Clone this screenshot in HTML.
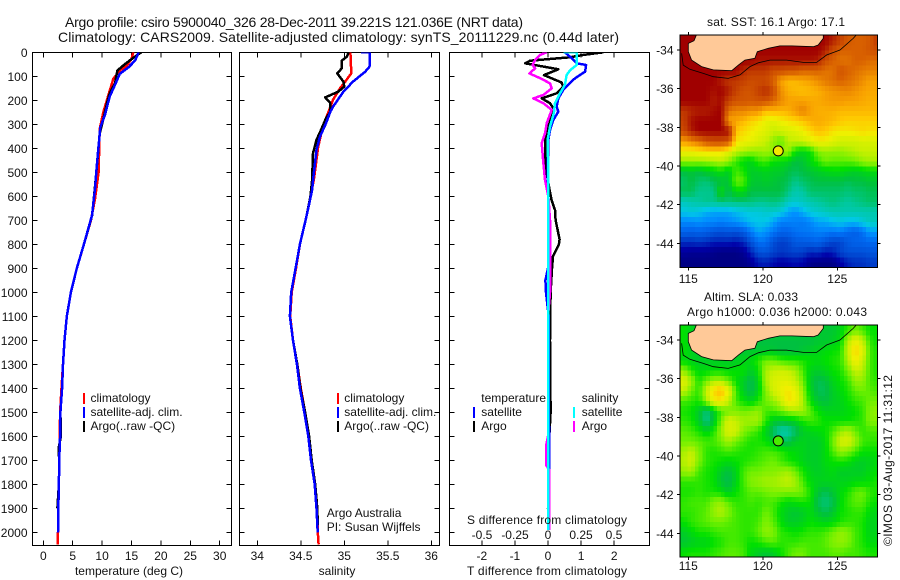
<!DOCTYPE html>
<html lang="en">
<head>
<meta charset="utf-8">
<title>Argo profile chart</title>
<style>
html,body{margin:0;padding:0;background:#fff;}
svg{display:block;}
text{font-family:"Liberation Sans",sans-serif;font-size:12px;fill:#111;}
.t{font-size:14px;}
</style>
</head>
<body>
<svg id="fig" xmlns="http://www.w3.org/2000/svg" width="900" height="580" viewBox="0 0 900 580">
<defs>
<clipPath id="c1"><rect x="32.5" y="52.5" width="199" height="493"/></clipPath>
<clipPath id="c2"><rect x="239.5" y="52.5" width="200" height="493"/></clipPath>
<clipPath id="c3"><rect x="449.5" y="52.5" width="200" height="493"/></clipPath>
<clipPath id="m1"><rect x="680" y="35" width="197.5" height="232.5"/></clipPath>
<clipPath id="m2"><rect x="680" y="325" width="197.5" height="232"/></clipPath>
</defs>
<text class="t" x="65" y="27" textLength="458" lengthAdjust="spacing">Argo profile: csiro 5900040_326 28-Dec-2011 39.221S 121.036E (NRT data)</text>
<text class="t" x="58" y="42" textLength="561" lengthAdjust="spacing">Climatology: CARS2009. Satellite-adjusted climatology: synTS_20111229.nc (0.44d later)</text>

<g id="p1"></g>
<g id="p2"></g>
<g id="p3"></g>
<g id="map1"></g>
<g id="map2"></g>

<text x="129" y="575" text-anchor="middle">temperature (deg C)</text>
<text x="337" y="575" text-anchor="middle">salinity</text>
<text x="547" y="575" text-anchor="middle" textLength="160">T difference from climatology</text>
<text x="547" y="524" text-anchor="middle" textLength="160">S difference from climatology</text>

<g>
<rect x="83" y="393" width="2" height="11" fill="#f00"/>
<text x="90.5" y="402">climatology</text>
<rect x="83" y="407" width="2" height="11" fill="#00f"/>
<text x="90.5" y="416">satellite-adj. clim.</text>
<rect x="83" y="421" width="2" height="11" fill="#000"/>
<text x="90.5" y="430">Argo(..raw -QC)</text>
</g>
<g>
<rect x="337" y="393" width="2" height="11" fill="#f00"/>
<text x="344.3" y="402">climatology</text>
<rect x="337" y="407" width="2" height="11" fill="#00f"/>
<text x="344.3" y="416">satellite-adj. clim.</text>
<rect x="337" y="421" width="2" height="11" fill="#000"/>
<text x="344.3" y="430">Argo(..raw -QC)</text>
</g>
<text x="326.7" y="517">Argo Australia</text>
<text x="326.7" y="531">PI: Susan Wijffels</text>
<g>
<text x="481.3" y="402">temperature</text>
<rect x="473" y="407" width="2" height="11" fill="#00f"/>
<text x="481.3" y="416">satellite</text>
<rect x="473" y="421" width="2" height="11" fill="#000"/>
<text x="481.3" y="430">Argo</text>
<text x="581.7" y="402">salinity</text>
<rect x="573" y="407" width="2" height="11" fill="#0ff"/>
<text x="581.7" y="416">satellite</text>
<rect x="573" y="421" width="2" height="11" fill="#f0f"/>
<text x="581.7" y="430">Argo</text>
</g>
<text x="707" y="26" textLength="138">sat. SST: 16.1  Argo: 17.1</text>
<text x="704" y="301" textLength="94">Altim. SLA: 0.033</text>
<text x="687" y="316" textLength="180">Argo h1000: 0.036  h2000: 0.043</text>
<text transform="translate(892,546) rotate(-90)" textLength="171">©IMOS 03-Aug-2017 11:31:12</text>
</svg>

<script>
// ---- axis ticks ----
const depthTicks = [0,100,200,300,400,500,600,700,800,900,1000,1100,1200,1300,1400,1500,1600,1700,1800,1900,2000];
const tempTicks = [0,5,10,15,20,25,30];
const salTicks = [34,34.5,35,35.5,36];
const tDiffTicks = [-2,-1,0,1,2];
const sDiffTicks = [-0.5,-0.25,0,0.25,0.5];
const lonTicks = [115,120,125];
const latTicks = [-34,-36,-38,-40,-42,-44];

// ---- temperature profiles ----
const tempClimDepth = [0,28,56,76,111,167,250,320,500,611,700,800,900,1000,1100,1200,1300,1400,1500,1600,1700,1800,1900,2000,2050];
const tempClimValue = [15.3,15,14.2,13,11.9,11.2,10.2,9.6,9.4,8.8,8.1,6.9,5.7,4.7,4.0,3.6,3.35,3.1,2.85,2.8,2.7,2.65,2.5,2.5,2.45];
const tempArgoDepth = [0,4,32,53,76,101,129,171,206,268,338,450,560,680,800,900,1000,1100,1200,1300,1400,1500,1600,1650,1700,1800,1900];
const tempArgoValue = [16.7,16.4,14.8,13.7,12.6,12.4,12.2,11.3,10.9,10.3,9.6,9.2,8.8,8.3,6.9,5.7,4.7,4.0,3.6,3.35,3.2,2.9,3.0,2.6,2.7,2.65,2.4];
const tempSatDepth = [0,35,62,90,136,184,260,313,389,472,567,678,800,900,1000,1100,1200,1300,1400,1500,1600,1700,1800,1900,2000];
const tempSatValue = [16.2,15.6,14.5,13,12.2,11.3,10.5,9.7,9.4,9.1,8.8,8.3,6.9,5.7,4.7,4.0,3.6,3.35,3.2,2.9,2.85,2.7,2.65,2.55,2.5];

// ---- salinity profiles ----
const salClimDepth = [0,88,122,150,198,247,282,330,393,476,532,602,692,800,900,1000,1100,1200,1300,1400,1500,1600,1700,1800,1900,2000,2050];
const salClimValue = [35.07,35.08,35.01,34.95,34.87,34.82,34.78,34.74,34.7,34.67,34.65,34.61,34.56,34.49,34.445,34.395,34.378,34.41,34.46,34.5,34.55,34.595,34.625,34.665,34.69,34.695,34.705];
const salArgoDepth = [0,18,35,67,88,122,143,164,188,212,247,275,317,365,421,532,602,692,800,900,1000,1100,1200,1300,1400,1500,1600,1700,1800,1900,1970];
const salArgoValue = [35.05,35.03,34.97,34.97,34.92,34.99,35,34.93,34.78,34.84,34.84,34.79,34.74,34.68,34.64,34.63,34.61,34.56,34.49,34.44,34.39,34.375,34.41,34.46,34.495,34.55,34.595,34.625,34.665,34.69,34.695];
const salSatDepth = [0,0,60,81,122,164,227,247,296,352,407,504,574,643,692,800,900,1000,1100,1200,1300,1400,1500,1600,1700,1800,1900,2000];
const salSatValue = [35.19,35.29,35.29,35.24,35.1,34.99,34.87,34.84,34.79,34.72,34.68,34.65,34.63,34.59,34.56,34.49,34.44,34.39,34.375,34.41,34.455,34.49,34.54,34.586,34.617,34.66,34.68,34.694];

// ---- difference profiles ----
const dtArgoDepth = [0,11,21,35,46,71,95,126,143,171,192,212,233,268,310,365,435,504,567,616,657,699,780,800,850,900,950,1000,1200,1500,1600,1900];
const dtArgoValue = [1.67,1.07,0.66,-0.54,-0.69,0.31,-0.12,0.41,0.46,0.26,-0.19,0.06,0.16,0.11,0.01,-0.09,-0.09,-0.04,0.04,0.11,0.21,0.23,0.35,0.33,0.15,0.12,0.1,0.08,0.06,0.08,0.04,0];
const dtSatDepth = [0,25,46,53,81,108,135,157,192,227,247,282,324,365,504,699,800,900,950,1000,1100,1990];
const dtSatValue = [0.51,0.72,0.87,1.15,1.12,0.82,0.61,0.46,0.31,0.26,0.31,0.16,0.06,0.01,-0.01,0.03,0.03,0,-0.08,-0.06,0.02,0.04];
const dsArgoDepth = [0,11,32,53,67,88,108,129,150,178,192,212,240,296,338,379,463,532,602,699,1000,1100,1600,1640,1720,1740,1990];
const dsArgoValue = [-0.01,-0.06,-0.098,-0.116,-0.098,-0.141,-0.06,0.015,0.028,-0.035,-0.111,-0.035,0.028,-0.01,-0.023,-0.048,-0.035,-0.023,0.003,0.015,0.015,0,0,-0.015,-0.015,0.01,0.01];
const dsSatDepth = [0,0,53,75,95,135,171,212,253,310,365,504,699,1990];
const dsSatValue = [0.116,0.217,0.217,0.167,0.141,0.129,0.091,0.053,0.045,0.015,-0.003,0.003,0.003,0.003];

// ---- map fields ----
const sstField = [
[21,21,21,21,21,21,21,21,21,21,21,21,21,21,21,21,21,21,21,21,20.5,19.8,19.2,19,19,19.2,20],
[21,21,21,21,21,21,21,21,21,21,21,21,21,21,21,21,21,21,21,20.5,19.5,19,19,19,19,19.3,19.5],
[21,21,21,21,21,21,21,21,21,21,20.7,20.7,20.7,20.7,20.7,20.7,20.7,20.7,20.5,19.5,19,18.7,18.7,19,19,18.8,18.8],
[21,21,21,21,21,21,21,21,20.3,20,20,20,19.5,19.5,19.3,19.3,19,19,19,18.7,18.7,19.3,19,18.8,18.6,18.5,18.5],
[21,21,21,21,21,20.5,20,20,19.8,19.5,19.5,19.5,19,18,17.7,17.7,17.9,18,18.3,18.6,18.8,19,18.8,18.6,18.3,18,18],
[21,21,21,21,20.7,21,20.5,19.8,19.3,19.3,19.8,20.3,19.5,18.3,17.8,17.7,17.6,17.7,17.8,18,18.2,18.3,18.4,18.2,18,17.9,17.9],
[21,21,21,21,20.5,20.8,19.8,19.3,19.3,19.2,19.3,19.3,18.9,18.4,18,18,18,17.9,17.9,18,18.1,18.1,18,18,17.9,17.8,17.8],
[20,20.3,20.5,20.5,20.8,21,18.7,18.4,18.4,18.2,18.2,17.6,17.7,17.7,17.8,18.1,18.5,18,17.8,17.8,17.8,17.7,17.7,17.7,17.7,17.7,17.7],
[19.8,20.7,21,21,21,21,18,17.9,17.7,17.4,17.2,16.9,16.8,17,17.2,17.3,17.5,17.8,17.9,17.8,17.7,17.5,17.4,17.4,17.4,17.4,17.4],
[19.5,20.5,21,21,21,21,20.8,17.6,17.3,17.1,16.9,16.8,16.5,16.6,16.7,16.8,17,17.3,17.6,17.5,17.2,17.1,17.1,17.2,17.3,17.2,17.2],
[18,18.3,18.7,19.3,19.5,19.5,19.3,17.2,17,16.9,16.7,16.5,16.2,15.9,16.4,16.5,16.6,16.8,17,17,16.8,16.6,16.6,16.6,16.7,16.7,16.7],
[17,17,17.1,17.2,17.2,17.2,16.8,16.5,16.3,16.2,16.2,16.3,16.2,16.2,16.3,15.5,15.3,15.5,16.1,16.2,16.2,16.2,16.3,16.4,16.5,16.5,16.5],
[16.2,16.2,16.2,16.2,16.3,16.4,16.2,15.7,15.4,15.3,15.7,15.8,15.5,15.4,15.3,15,15.1,15.4,15.7,16,15.9,15.9,15.9,16,16.2,16.3,16.3],
[15,15.1,15,15.2,15.3,15.5,15.2,15.8,15.6,15.2,15.2,15.3,15.2,15.2,15,14.9,15,15.1,15.2,15.3,15.4,15.4,15.3,15.2,15.3,15.4,15.4],
[14.8,15,14.8,14.7,14.9,15,15.1,16,15.9,15.2,15.1,15.2,15.1,15,14.9,14.6,14.8,14.9,15,15,15,15,14.9,15,15,15.1,15.1],
[14.9,14.9,14.6,14.6,14.6,15.5,14.9,15.4,15.4,15,15,15,15,15,14.7,14.4,14.5,14.8,14.8,14.8,14.8,14.8,14.7,14.8,14.8,14.9,14.9],
[14.3,14.4,14.5,14.6,14.6,14.7,14.7,14.7,14.7,14.7,14.6,14.6,14.7,14.6,14.3,14.2,14.3,14.4,14.5,14.6,14.7,14.6,14.5,14.6,14.7,14.8,14.8],
[14,14.1,14,13.8,13.7,13.7,13.7,13.9,14,14.1,14.1,14.2,14.2,14.1,13.7,13.5,13.8,14.1,14.2,14.3,14.4,14.4,14.4,14.4,14.4,14.4,14.4],
[13.4,13.4,13.5,13.4,13.4,13.3,13.4,13.5,13.7,13.9,14,14,13.7,13.3,13.3,13.3,13.2,13.4,13.7,13.7,13.9,14,13.9,13.9,14.1,14.3,14.3],
[12.9,12.8,12.9,12.8,12.6,12.5,12.6,12.5,12.7,13.2,13.7,13.5,13.2,12.9,12.9,13.1,13.2,13.2,13.3,13.3,13.2,13.3,13,12.8,13.1,13.6,13.6],
[12,12,12.1,12,11.8,11.8,11.8,11.7,11.9,12.5,13.1,13.1,12.5,12.2,12.3,12.7,12.7,12.8,12.9,12.6,12.3,12.3,12.7,12.9,12.9,13,13],
[11.3,11.2,11.2,11.2,11.1,11,11,11,11.2,11.8,12.5,12.6,12.3,12.1,12.2,12.3,12.2,11.9,12,11.7,11.8,12.3,12.5,12.5,12.5,12.6,12.6],
[11,11,11,11,11,11,11,11,11,11.2,11.7,11.8,11.6,11.4,11.5,11.6,11.5,11.1,11,11,11,11.4,11.8,12,12,12.2,12.2]
];
const slaField = [
[0,-2,-3,-3,-3,-3,-3,-3,-3,-3,-3,-3,-3,-3,-3,-3,-3,-3,-3,-4,-4,-2,2,5,3,0,0],
[0,-2,-3,-3,-3,-3,-3,-3,-3,-3,-5,-5,-5,-5,-5,-5,-5,-5,-4,-4,-3,-1,8,14,10,2,0],
[0,-2,-3,-3,-3,-3,-3,-3,-4,-4,-4,-4,-4,-5,-5,-5,-4,-3,-2,-1,0,1,10,19,13,3,1],
[-1,-2,-3,-3,-3,-3,-3,-3,-2,-1,2,5,5,3,2,2,1,0,-1,0,1,2,8,16,11,3,1],
[7,2,-1,-1,0,0,-1,0,0,-3,0,8,10,11,10,8,3,-2,-3,-2,0,1,5,10,9,3,1],
[13,8,1,5,8,8,5,0,-3,-6,-2,8,12,13,13,10,5,-3,-6,-5,-2,0,2,7,7,3,2],
[10,5,2,10,18,22,14,3,-3,-6,-2,6,11,14,17,14,7,-2,-6,-6,-3,-1,1,4,5,4,3],
[3,2,1,7,15,16,10,3,0,-2,1,5,7,10,17,15,8,0,-4,-5,-3,-2,0,2,3,5,5],
[1,0,-3,-8,-3,3,5,6,5,6,7,3,3,5,7,8,8,4,0,-2,-2,-2,-1,0,2,6,7],
[2,1,-3,-9,-4,5,12,10,8,8,8,2,-3,-4,-3,-2,1,3,2,0,0,0,0,1,2,6,6],
[4,3,1,-2,1,7,12,11,6,4,2,-2,-7,-11,-11,-7,-3,-2,-1,0,3,7,9,5,2,3,3],
[5,5,4,3,3,5,8,5,3,1,1,0,-3,-6,-6,-3,-2,-3,-3,-1,5,11,12,8,3,2,2],
[8,10,6,2,1,2,3,2,1,1,2,3,3,2,0,-1,-2,-3,-3,-1,3,7,6,3,0,0,0],
[9,11,6,2,1,0,-1,0,1,2,3,4,5,3,1,0,-2,-3,-3,-1,0,1,0,-2,-3,-2,-1],
[7,8,3,1,0,-3,-5,-2,3,5,5,6,6,7,8,5,1,-2,-3,-2,-1,-3,-3,-3,-3,-1,0],
[2,2,2,1,0,-4,-6,-2,3,6,7,8,8,9,10,8,3,-1,-2,-2,-2,-2,-2,-1,-1,0,1],
[1,1,2,1,1,0,-3,0,2,4,4,5,6,6,6,6,5,1,-4,-6,-4,-1,1,4,5,2,1],
[2,3,3,3,6,7,4,2,2,3,2,3,3,1,-1,0,1,0,-6,-8,-6,-1,2,4,4,1,0],
[2,2,3,4,7,9,6,3,2,2,2,5,3,-1,-3,-4,-3,-1,-4,-6,-4,0,1,2,2,-1,-2],
[0,2,3,4,5,5,4,3,2,2,3,6,4,0,-3,-3,-2,0,-1,-2,-1,1,2,2,1,-2,-2],
[-3,-1,1,1,2,3,3,3,2,2,4,7,6,2,1,0,1,2,2,3,5,7,6,3,1,-2,-2],
[-4,-3,-2,-2,0,1,3,3,2,0,1,3,4,2,2,2,3,3,3,4,6,7,6,3,1,-1,-1],
[0,1,1,1,2,3,4,4,3,-1,-3,-4,-3,0,3,5,5,3,3,3,4,4,3,3,2,1,1]
];
const landLon = [115.56,115.38,115,115,115.22,115.89,116.68,117.91,118.36,118.8,119.47,119.63,120.37,121.15,121.94,123.39,123.72,124.06,124.06];
const landLat = [-33.2,-33.52,-33.66,-34.09,-34.52,-34.86,-35.03,-35.07,-34.78,-34.52,-34.43,-34.09,-33.91,-33.79,-33.79,-33.83,-33.74,-33.4,-33.2];
const shelfLon = [114.55,114.66,115.11,116.01,116.68,117.68,118.47,119.14,119.7,120.48,121.6,122.72,123.61,124.28,125.18,126.07,126.3];
const shelfLat = [-34.17,-34.78,-35,-35.21,-35.38,-35.47,-35.29,-34.86,-34.66,-34.52,-34.52,-34.64,-34.64,-34.26,-34,-33.4,-33.2];
const floatLon = 121.036;
const floatLat = -39.221;
const floatSst = 17.1;
const floatSla = 3.3;

// ---- colour scale ----
const scaleValues = [11,11.5,12,12.5,13,13.5,14,14.5,15,15.5,16,16.5,17,17.5,18,19,20,21];
const scaleColors = ['#000084','#0000a8','#0030c0','#0050d8','#0068f0','#0090ff','#00c8e8','#00c8a0','#00c040','#00e000','#70f000','#c8f000','#f0f000','#ffc800','#f8a000','#d86000','#c03800','#a00000'];

const NS = 'http://www.w3.org/2000/svg';
function make(tag, attrs, parent) {
  const n = document.createElementNS(NS, tag);
  for (const k in attrs) n.setAttribute(k, attrs[k]);
  parent.appendChild(n);
  return n;
}
function hex(c){return [parseInt(c.slice(1,3),16),parseInt(c.slice(3,5),16),parseInt(c.slice(5,7),16)];}
function colour(v) {
  if (v <= scaleValues[0]) return scaleColors[0];
  for (let i = 1; i < scaleValues.length; i++) {
    if (v <= scaleValues[i]) {
      const f = (v - scaleValues[i-1]) / (scaleValues[i] - scaleValues[i-1]);
      const a = hex(scaleColors[i-1]), b = hex(scaleColors[i]);
      return 'rgb(' + a.map((x, j) => Math.round(x + (b[j] - x) * f)).join(',') + ')';
    }
  }
  return scaleColors[scaleColors.length - 1];
}

const yDepth = d => 52.3 + d * 0.24;
const xTemp = v => 43.3 + v * 5.88;
const xSal = v => 257.3 + (v - 34) * 87;
const xDT = v => 548 + v * 33.1;
const xDS = v => 548 + v * 132;

function drawFrame(group, left, width) {
  const f = make('rect', {x: left, y: 52.5, width: width, height: 493, fill: 'none', stroke: '#000', 'stroke-width': 1, 'shape-rendering': 'crispEdges'}, group);
  
  
  depthTicks.forEach(d => {
    const y = yDepth(d);
    const a = make('line', {x1: left, x2: left + 5, y1: y, y2: y, stroke: '#000', 'shape-rendering': 'crispEdges'}, group);
    
    
    const b = make('line', {x1: left + width - 5, x2: left + width, y1: y, y2: y, stroke: '#000', 'shape-rendering': 'crispEdges'}, group);
    
    
  });
}
function drawXTicks(group, ticks, xf, labelY, top, bottom) {
  ticks.forEach(v => {
    const x = xf(v);
    if (top) {
      const a = make('line', {x1: x, x2: x, y1: 52.5, y2: 57.5, stroke: '#000', 'shape-rendering': 'crispEdges'}, group);
      
      
    }
    if (bottom) {
      const b = make('line', {x1: x, x2: x, y1: 540.5, y2: 545.5, stroke: '#000', 'shape-rendering': 'crispEdges'}, group);
      
      
    }
    const t = make('text', {x: x, y: labelY, 'text-anchor': 'middle'}, group);
    
    
    t.textContent = String(v);
  });
}
function drawLine(group, depths, values, xf, col, clip, name) {
  const pts = depths.map((d, i) => xf(values[i]).toFixed(1) + ',' + yDepth(d).toFixed(1)).join(' ');
  const p = make('polyline', {points: pts, fill: 'none', stroke: col, 'stroke-width': 2.5, 'stroke-linejoin': 'round', 'clip-path': 'url(#' + clip + ')', 'shape-rendering': 'crispEdges'}, group);
  
  
}

// temperature panel
const p1 = document.getElementById('p1');
drawFrame(p1, 32.5, 199);
drawXTicks(p1, tempTicks, xTemp, 560, true, true);
depthTicks.forEach(d => {
  const t = make('text', {x: 27.5, y: yDepth(d) + 4.5, 'text-anchor': 'end'}, p1);
  
  
  t.textContent = d;
});
drawLine(p1, tempClimDepth, tempClimValue, xTemp, '#f00', 'c1', 'temperature-climatology-line');
drawLine(p1, tempArgoDepth, tempArgoValue, xTemp, '#000', 'c1', 'temperature-argo-line');
drawLine(p1, tempSatDepth, tempSatValue, xTemp, '#00f', 'c1', 'temperature-satellite-line');

// salinity panel
const p2 = document.getElementById('p2');
drawFrame(p2, 239.5, 200);
drawXTicks(p2, salTicks, xSal, 560, true, true);
drawLine(p2, salClimDepth, salClimValue, xSal, '#f00', 'c2', 'salinity-climatology-line');
drawLine(p2, salArgoDepth, salArgoValue, xSal, '#000', 'c2', 'salinity-argo-line');
drawLine(p2, salSatDepth, salSatValue, xSal, '#00f', 'c2', 'salinity-satellite-line');

// difference panel
const p3 = document.getElementById('p3');
drawFrame(p3, 449.5, 200);
drawXTicks(p3, tDiffTicks, xDT, 560, false, true);
drawXTicks(p3, sDiffTicks, xDS, 539, true, false);
drawLine(p3, dtArgoDepth, dtArgoValue, xDT, '#000', 'c3', 't-difference-argo-line');
drawLine(p3, dtSatDepth, dtSatValue, xDT, '#00f', 'c3', 't-difference-satellite-line');
drawLine(p3, dsArgoDepth, dsArgoValue, xDS, '#f0f', 'c3', 's-difference-argo-line');
drawLine(p3, dsSatDepth, dsSatValue, xDS, '#0ff', 'c3', 's-difference-satellite-line');

// maps: each field cell is shaded on a finer raster, blended between neighbouring cells
function sampleField(field, r, c) {
  const rows = field.length, cols = field[0].length;
  const r0 = Math.max(0, Math.min(rows - 1, Math.floor(r))), r1 = Math.min(rows - 1, r0 + 1);
  const c0 = Math.max(0, Math.min(cols - 1, Math.floor(c))), c1 = Math.min(cols - 1, c0 + 1);
  const fr = Math.max(0, Math.min(1, r - r0)), fc = Math.max(0, Math.min(1, c - c0));
  const a = field[r0][c0] * (1 - fc) + field[r0][c1] * fc;
  const b = field[r1][c0] * (1 - fc) + field[r1][c1] * fc;
  return a * (1 - fr) + b * fr;
}
function drawMap(group, field, toColourValue, y34, top, height, clip, labelLonY, markerValue, prefix) {
  const xLon = lon => 688.3 + (lon - 115) * 14.9;
  const yLat = lat => y34 + (-34 - lat) * 19.33;
  const lon0 = 114.44, lat0 = -33.24, dLon = 0.5, dLat = 0.522, sub = 2;
  const cells = make('g', {'clip-path': 'url(#' + clip + ')'}, group);
  
  
  for (let r = 0; r < field.length * sub; r++) {
    for (let c = 0; c < field[0].length * sub; c++) {
      const v = sampleField(field, (r + 0.5) / sub - 0.5, (c + 0.5) / sub - 0.5);
      const x = xLon(lon0 + c * dLon / sub), y = yLat(lat0 - r * dLat / sub);
      const cell = make('rect', {x: x.toFixed(2), y: y.toFixed(2), width: (dLon * 14.9 / sub + 0.6).toFixed(2), height: (dLat * 19.33 / sub + 0.6).toFixed(2), fill: colour(toColourValue(v)), 'shape-rendering': 'crispEdges'}, cells);
      
      
    }
  }
  const land = make('polygon', {points: landLon.map((l, i) => xLon(l).toFixed(1) + ',' + yLat(landLat[i]).toFixed(1)).join(' '), fill: '#ffc998', stroke: '#000', 'stroke-width': 0.8, 'clip-path': 'url(#' + clip + ')'}, group);
  
  
  const shelf = make('polyline', {points: shelfLon.map((l, i) => xLon(l).toFixed(1) + ',' + yLat(shelfLat[i]).toFixed(1)).join(' '), fill: 'none', stroke: '#000', 'stroke-width': 0.8, 'clip-path': 'url(#' + clip + ')'}, group);
  
  
  const marker = make('circle', {cx: xLon(floatLon), cy: yLat(floatLat), r: 5, fill: colour(toColourValue(markerValue)), stroke: '#000', 'stroke-width': 1}, group);
  
  
  const frame = make('rect', {x: 680, y: top, width: 197.5, height: height, fill: 'none', stroke: '#000', 'stroke-width': 1, 'shape-rendering': 'crispEdges'}, group);
  
  
  lonTicks.forEach(l => {
    const x = xLon(l);
    const a = make('line', {x1: x, x2: x, y1: top - 3, y2: top, stroke: '#000', 'shape-rendering': 'crispEdges'}, group);
    
    
    const b = make('line', {x1: x, x2: x, y1: top + height, y2: top + height + 3, stroke: '#000', 'shape-rendering': 'crispEdges'}, group);
    
    
    const t = make('text', {x: x, y: labelLonY, 'text-anchor': 'middle'}, group);
    
    
    t.textContent = l;
  });
  latTicks.forEach(l => {
    const y = yLat(l);
    const a = make('line', {x1: 677, x2: 680, y1: y, y2: y, stroke: '#000', 'shape-rendering': 'crispEdges'}, group);
    
    
    const b = make('line', {x1: 877.5, x2: 880.5, y1: y, y2: y, stroke: '#000', 'shape-rendering': 'crispEdges'}, group);
    
    
    const t = make('text', {x: 673.5, y: y + 4.5, 'text-anchor': 'end'}, group);
    
    
    t.textContent = l;
  });
}
drawMap(document.getElementById('map1'), sstField, v => v, 50, 35, 232.5, 'm1', 283, floatSst, 'sst');
drawMap(document.getElementById('map2'), slaField, v => 15.5 + v / 10, 340, 325, 232, 'm2', 570, floatSla, 'sla');
</script>
</body>
</html>
